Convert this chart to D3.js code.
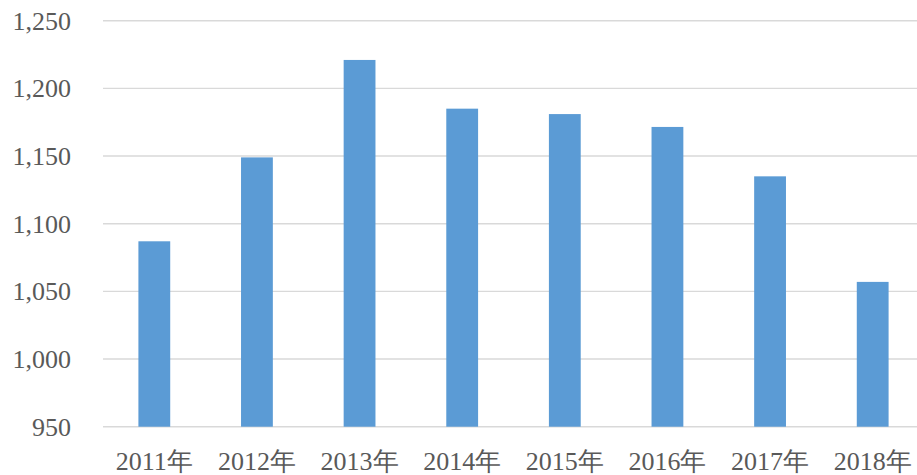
<!DOCTYPE html>
<html>
<head>
<meta charset="utf-8">
<script src="https://cdn.jsdelivr.net/npm/d3@7"></script>
<style>
  body { margin: 0; background: #fff; }
</style>
</head>
<body>
<svg id="chart"></svg>
<script>
const years = ['2011年', '2012年', '2013年', '2014年', '2015年', '2016年', '2017年', '2018年'];
const values = [1087, 1149, 1221, 1185, 1181, 1171.5, 1135, 1057];
const yTicks = [950, 1000, 1050, 1100, 1150, 1200, 1250];

const width = 917, height = 475;
const marginLeft = 103, marginRight = -7, marginTop = 20.7, marginBottom = 48.3;
const fontFam = "'Liberation Serif', 'Times New Roman', 'DejaVu Serif', serif";

const svg = d3.select('#chart')
  .attr('width', width)
  .attr('height', height)
  .attr('viewBox', [0, 0, width, height]);

const x = d3.scaleBand()
  .domain(years)
  .range([marginLeft, width - marginRight])
  .paddingInner(0.69)
  .paddingOuter(0.345);

const y = d3.scaleLinear()
  .domain([950, 1250])
  .range([height - marginBottom, marginTop]);

// gridlines
svg.append('g')
  .selectAll('line')
  .data(yTicks)
  .enter().append('line')
  .attr('x1', marginLeft)
  .attr('x2', width)
  .attr('y1', d => y(d))
  .attr('y2', d => y(d))
  .attr('stroke', '#d9d9d9')
  .attr('stroke-width', 1.4);

// bars
svg.append('g')
  .selectAll('rect')
  .data(values)
  .enter().append('rect')
  .attr('x', (d, i) => x(years[i]))
  .attr('y', d => y(d))
  .attr('width', x.bandwidth())
  .attr('height', d => y(950) - y(d))
  .attr('fill', '#5b9bd5');

// y labels
const f = d3.format(',');
svg.append('g')
  .selectAll('text')
  .data(yTicks)
  .enter().append('text')
  .text(d => f(d))
  .attr('x', 71)
  .attr('y', d => y(d))
  .attr('dy', '0.35em')
  .attr('text-anchor', 'end')
  .attr('font-family', fontFam)
  .attr('font-size', 26)
  .attr('fill', '#595959');

// x labels
svg.append('g')
  .selectAll('text')
  .data(years)
  .enter().append('text')
  .text(d => d)
  .attr('x', d => x(d) + x.bandwidth() / 2)
  .attr('y', 470)
  .attr('text-anchor', 'middle')
  .attr('font-family', fontFam)
  .attr('font-size', 26)
  .attr('fill', '#595959');
</script>
</body>
</html>
